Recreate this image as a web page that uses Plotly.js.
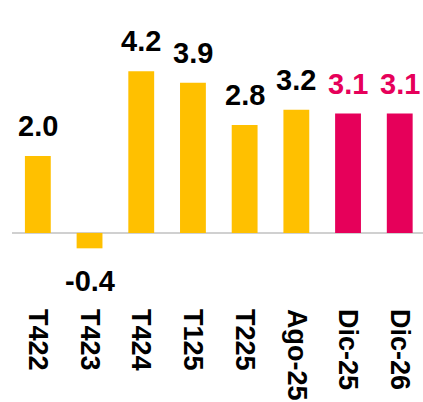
<!DOCTYPE html>
<html>
<head>
<meta charset="utf-8">
<script src="https://cdn.plot.ly/plotly-3.0.1.min.js"></script>
<style>html,body{margin:0;padding:0;background:#fff;}#chart{width:423px;height:402px;}</style>
</head>
<body>
<div id="chart"></div>
<script>
var categories = ["T422", "T423", "T424", "T125", "T225", "Ago-25", "Dic-25", "Dic-26"];
var values = [2.0, -0.4, 4.2, 3.9, 2.8, 3.2, 3.1, 3.1];
var isForecast = [false, false, false, false, false, false, true, true];

var YELLOW = "#FFC000";
var PINK = "#E6005A";
var FONT = "Liberation Sans, Arial, sans-serif";

var barColors = isForecast.map(function (f) { return f ? PINK : YELLOW; });

var trace = {
  type: "bar",
  x: categories,
  y: values,
  marker: { color: barColors },
  width: 0.5,
  hoverinfo: "none"
};

var annotations = categories.map(function (c, i) {
  var v = values[i];
  return {
    x: c,
    y: v,
    xref: "x",
    yref: "y",
    text: v.toFixed(1),
    showarrow: false,
    yanchor: v >= 0 ? "bottom" : "top",
    yshift: v >= 0 ? 12 : -15,
    font: { family: FONT, size: 29, weight: "bold", color: isForecast[i] ? PINK : "#000000" }
  };
});

var layout = {
  width: 423,
  height: 402,
  margin: { l: 12, r: 0, t: 10, b: 94 },
  paper_bgcolor: "#ffffff",
  plot_bgcolor: "#ffffff",
  showlegend: false,
  bargap: 0.5,
  xaxis: {
    type: "category",
    range: [-0.5, 7.45],
    showgrid: false,
    showline: false,
    zeroline: false,
    ticks: "",
    tickangle: 90,
    tickfont: { family: FONT, size: 27, weight: "bold", color: "#000000" }
  },
  yaxis: {
    range: [-1.95, 5.79],
    showgrid: false,
    showticklabels: false,
    ticks: "",
    showline: false,
    zeroline: true,
    zerolinecolor: "#D0D0D0",
    zerolinewidth: 2
  },
  annotations: annotations
};

Plotly.newPlot("chart", [trace], layout, { staticPlot: true, displayModeBar: false });
</script>
</body>
</html>
